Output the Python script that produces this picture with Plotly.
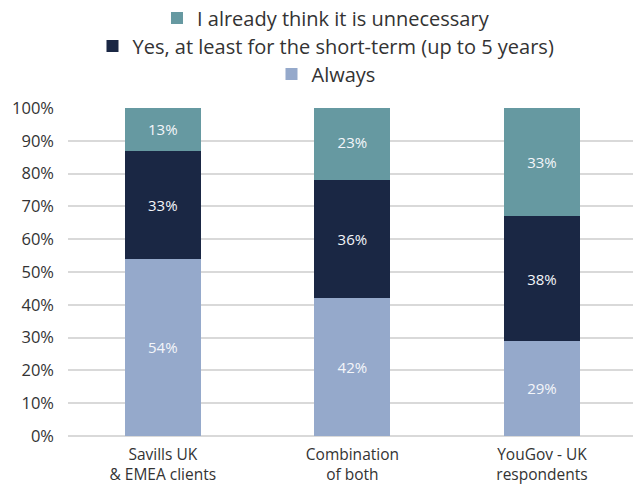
import plotly.graph_objects as go

categories = ["Savills UK<br>& EMEA clients", "Combination<br>of both", "YouGov - UK<br>respondents"]
always = [54, 42, 29]
short_term = [33, 36, 38]
unnecessary = [13, 23, 33]

series = [
    ("Always", always, "#95A9CB", "legend3"),
    ("Yes, at least for the short-term (up to 5 years)", short_term, "#1A2744", "legend2"),
    ("I already think it is unnecessary", unnecessary, "#6699A1", "legend"),
]

FONT = "Open Sans"

fig = go.Figure()
for name, vals, color, leg in series:
    fig.add_trace(go.Bar(
        x=categories, y=vals, name=name, legend=leg,
        marker=dict(color=color, line=dict(width=0)),
        text=[f"{v}%" for v in vals], textposition="inside",
        insidetextanchor="middle", textangle=0,
        textfont=dict(color="#F4F6FA", size=15, family=FONT),
        width=0.4,
    ))

legend_common = dict(
    orientation="h", xref="container", yref="container",
    x=0.515, xanchor="center", yanchor="middle",
    font=dict(size=20, color="#333333", family=FONT), bgcolor="rgba(0,0,0,0)",
)
fig.update_layout(
    barmode="stack",
    width=633, height=484,
    margin=dict(l=68, r=0, t=108, b=48, autoexpand=False),
    paper_bgcolor="white", plot_bgcolor="white",
    font=dict(family=FONT, color="#333333", size=15.5),
    showlegend=True,
    legend=dict(legend_common, y=1 - 18 / 484),
    legend2=dict(legend_common, y=1 - 46 / 484),
    legend3=dict(legend_common, y=1 - 74 / 484),
    uniformtext=dict(minsize=8, mode="show"),
)
fig.update_xaxes(showgrid=False, showline=False, ticks="", tickfont=dict(size=15.5),
                 range=[-0.5, 2.48], tickangle=0, automargin=False,
                 ticklabelstandoff=7)
fig.update_yaxes(range=[0, 100], dtick=10, ticksuffix="%", showgrid=True,
                 gridcolor="#D9D9D9", gridwidth=1.5, zeroline=True,
                 zerolinecolor="#D9D9D9", zerolinewidth=1.5,
                 tickfont=dict(size=16.5), ticklen=0, ticks="", automargin=False,
                 ticklabelstandoff=13)

fig.write_html("out.html")
